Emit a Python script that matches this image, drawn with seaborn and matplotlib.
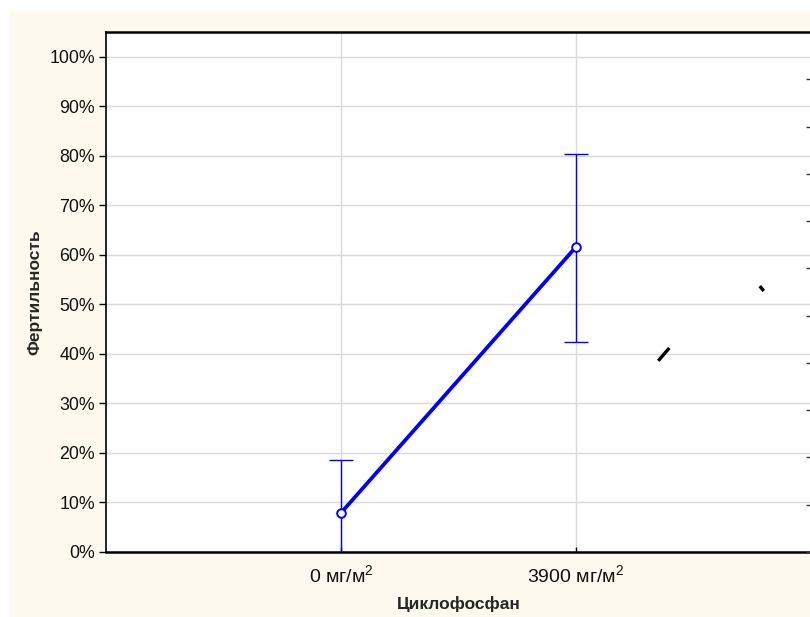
import matplotlib
matplotlib.use("Agg")
import matplotlib.pyplot as plt
from matplotlib.patches import Rectangle
from matplotlib.ticker import FuncFormatter
import numpy as np
import pandas as pd
import seaborn as sns

# Fertility by cyclophosphamide dose
doses = ["0 мг/м$^{2}$", "3900 мг/м$^{2}$"]
positions = [0, 1]
fertility = [7.9, 61.6]          # mean, %
err_low = [10.7, 19.2]           # lower half-width, %
err_high = [10.7, 18.8]          # upper half-width, %

# short black strokes in the plot area
stroke_a_x = [1.35, 1.397]
stroke_a_y = [38.6, 41.2]
stroke_b_x = [1.782, 1.799]
stroke_b_y = [53.7, 52.7]

y_ticks = list(range(0, 101, 10))
right_ticks = list(range(0, 11))

sns.set_theme(style="white")
plt.rcParams["font.family"] = ["Liberation Sans", "DejaVu Sans"]
plt.rcParams["mathtext.fontset"] = "custom"
plt.rcParams["mathtext.rm"] = "Liberation Sans"
plt.rcParams["mathtext.it"] = "Liberation Sans"
plt.rcParams["mathtext.default"] = "regular"

BLUE = "#0000FF"
CREAM = "#FDF9EE"

fig = plt.figure(figsize=(8.10, 6.17), dpi=100, facecolor="white")
bg = Rectangle((10 / 810, 0), 1 - 10 / 810, 1 - 12 / 617,
               transform=fig.transFigure, facecolor=CREAM,
               edgecolor="none", zorder=-10)
fig.add_artist(bg)

left, bottom = 106 / 810, 1 - 552 / 617
width, height = 705 / 810, (552 - 32) / 617
ax = fig.add_axes([left, bottom, width, height])
ax.set_zorder(1)
ax.set_facecolor("white")

df = pd.DataFrame({"pos": positions, "fert": fertility})

ax.errorbar(positions, fertility, yerr=[err_low, err_high], fmt="none",
            ecolor=BLUE, elinewidth=1.0, capsize=8.3, capthick=1.0, zorder=3)
sns.lineplot(data=df, x="pos", y="fert", ax=ax, color=BLUE, linewidth=2.7,
             marker="o", markersize=6.2, markerfacecolor="white",
             markeredgecolor=BLUE, markeredgewidth=1.4, zorder=4)

ax.plot(stroke_a_x, stroke_a_y, color="black", linewidth=2.4,
        solid_capstyle="butt", zorder=5)
ax.plot(stroke_b_x, stroke_b_y, color="black", linewidth=2.4,
        solid_capstyle="butt", zorder=5)

ax.set_xlim(-1, 2)
ax.set_ylim(0, 105)
ax.set_xticks(positions)
ax.set_xticklabels(doses)
ax.set_yticks(y_ticks)
ax.yaxis.set_major_formatter(FuncFormatter(lambda v, p: f"{int(v)}%"))

ax.grid(True, color="#D9D9D9", linewidth=1.0)
ax.set_axisbelow(True)

ax.tick_params(axis="y", direction="out", length=5, width=1, color="black",
               labelsize=12.8, pad=3, left=True, labelcolor="#111111")
ax.tick_params(axis="x", direction="in", length=3.5, width=1, color="black",
               labelsize=14, pad=9, bottom=True, labelcolor="#111111")

for side in ["left", "right"]:
    ax.spines[side].set_color("black")
    ax.spines[side].set_linewidth(1.2)
for side in ["top", "bottom"]:
    ax.spines[side].set_color("black")
    ax.spines[side].set_linewidth(1.8)

ax.set_xlabel("Циклофосфан", fontsize=12.5, fontweight="bold", labelpad=7)
ax.set_ylabel("Фертильность", fontsize=12.5, fontweight="bold", labelpad=5)

# secondary scale on the right with inward ticks only
ax2 = ax.twinx()
ax2.set_zorder(2)
ax2.patch.set_visible(False)
ax2.set_ylim(0, 11)
ax2.set_yticks(right_ticks)
ax2.tick_params(axis="y", direction="in", length=3.5, width=1,
                color="#333333", labelright=False)
ax2.grid(False)
for s in ax2.spines.values():
    s.set_visible(False)

fig.savefig("out.png", dpi=100, facecolor=fig.get_facecolor())
